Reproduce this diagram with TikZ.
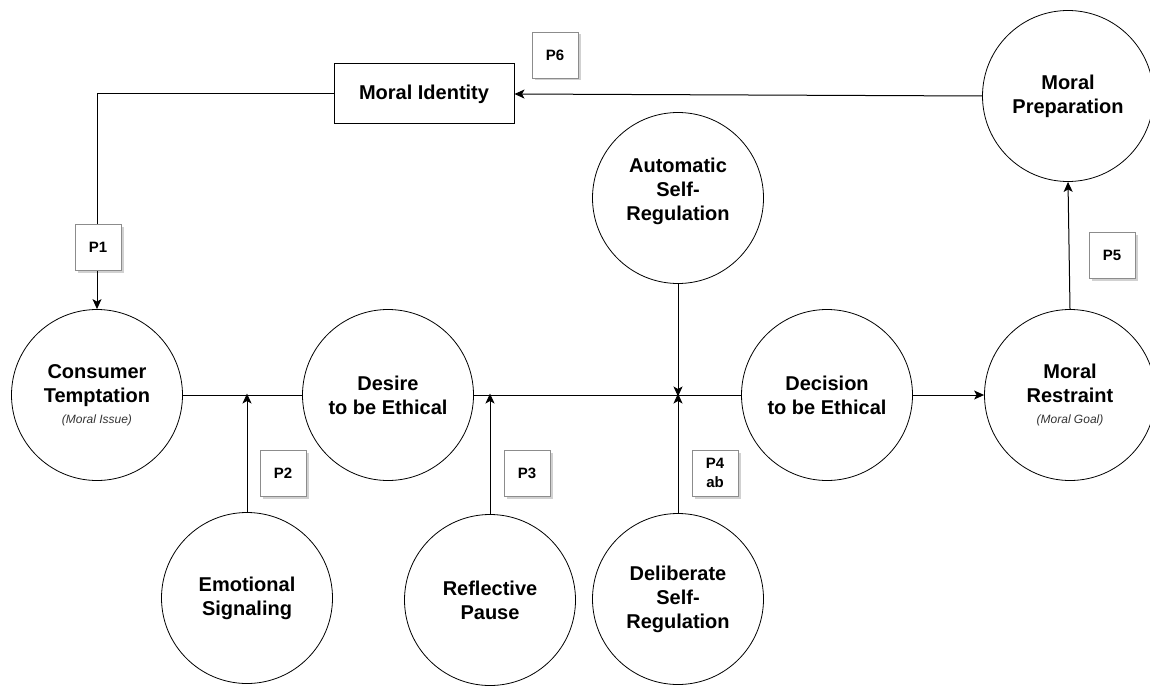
\documentclass[tikz,border=0pt]{standalone}
\usepackage{fontspec}
\setmainfont{Liberation Sans}
\usetikzlibrary{arrows.meta,shadows}
\definecolor{subgray}{HTML}{333333}
\definecolor{pborder}{HTML}{8C8C8C}
\begin{document}
\begin{tikzpicture}[x=1pt,y=-1pt,
  circfont/.style={font=\fontsize{20}{24}\selectfont\bfseries},
  circ/.style={circle, draw, line width=0.8pt, minimum size=171pt, inner sep=0pt, align=center, circfont},
  pbox/.style={draw=pborder, fill=white, minimum size=46pt, inner sep=0pt, align=center,
    font=\fontsize{15}{19}\selectfont\bfseries,
    drop shadow={shadow xshift=2.5pt, shadow yshift=-2.5pt, fill=black, opacity=0.18}},
  idbox/.style={draw, line width=1pt, minimum width=180pt, minimum height=60pt, inner sep=0pt,
    font=\fontsize{20}{24}\selectfont\bfseries},
  conn/.style={line width=1pt},
  arr/.style={conn, -{Stealth[length=10pt,width=9pt,inset=2.5pt]}}
]
\useasboundingbox (0,0) rectangle (1150,690);

% circles
\node[circ] (CT) at (97,395) {Consumer\\Temptation\\[-3pt]{\fontsize{12}{14}\selectfont\mdseries\itshape\color{subgray}(Moral Issue)}};
\node[circ] (DE) at (388,395) {Desire\\to be Ethical};
\node[circ] (DC) at (827,395) {Decision\\to be Ethical};
\node[circ] (MR) at (1070,395) {Moral\\Restraint\\[-3pt]{\fontsize{12}{14}\selectfont\mdseries\itshape\color{subgray}(Moral Goal)}};
\node[circ] (MP) at (1068,96) {Moral\\Preparation};
\node[circ, label={[circfont, align=center, yshift=7pt]center:Automatic\\Self-\\Regulation}] (AS) at (678,198) {};
\node[circ] (ES) at (247,598) {Emotional\\Signaling};
\node[circ] (RP) at (490,600) {Reflective\\Pause};
\node[circ] (DS) at (678,599) {Deliberate\\Self-\\Regulation};

% identity box
\node[idbox] (MI) at (424,94) {Moral Identity};

% junction coordinates on the main line
\coordinate (J2) at (ES.north |- CT.east);
\coordinate (J3) at (RP.north |- DE.east);
\coordinate (J4) at (DS.north |- DE.east);

% connectors
\draw[conn] (CT.east) -- (DE.west);
\draw[conn] (DE.east) -- (DC.west);
\draw[arr] (DC.east) -- (MR.west);
\draw[arr] (ES.north) -- ([yshift=1.5pt]J2);
\draw[arr] (RP.north) -- ([yshift=1.5pt]J3);
\draw[arr] (DS.north) -- ([yshift=1.5pt]J4);
\draw[arr] (AS.south) -- ([yshift=-1.5pt]J4);
\draw[arr] (MR.north) -- (MP.south);
\draw[arr] (MP.west) -- (MI.east);
\draw[arr] (MI.west) -| (CT.north);

% proposition boxes
\node[pbox] (P1) at (98,247) {P1};
\node[pbox] (P2) at (283,473) {P2};
\node[pbox] (P3) at (527,473) {P3};
\node[pbox] (P4) at (715,473) {P4\\ab};
\node[pbox] (P5) at (1112,255) {P5};
\node[pbox] (P6) at (555,55) {P6};
\end{tikzpicture}
\end{document}
